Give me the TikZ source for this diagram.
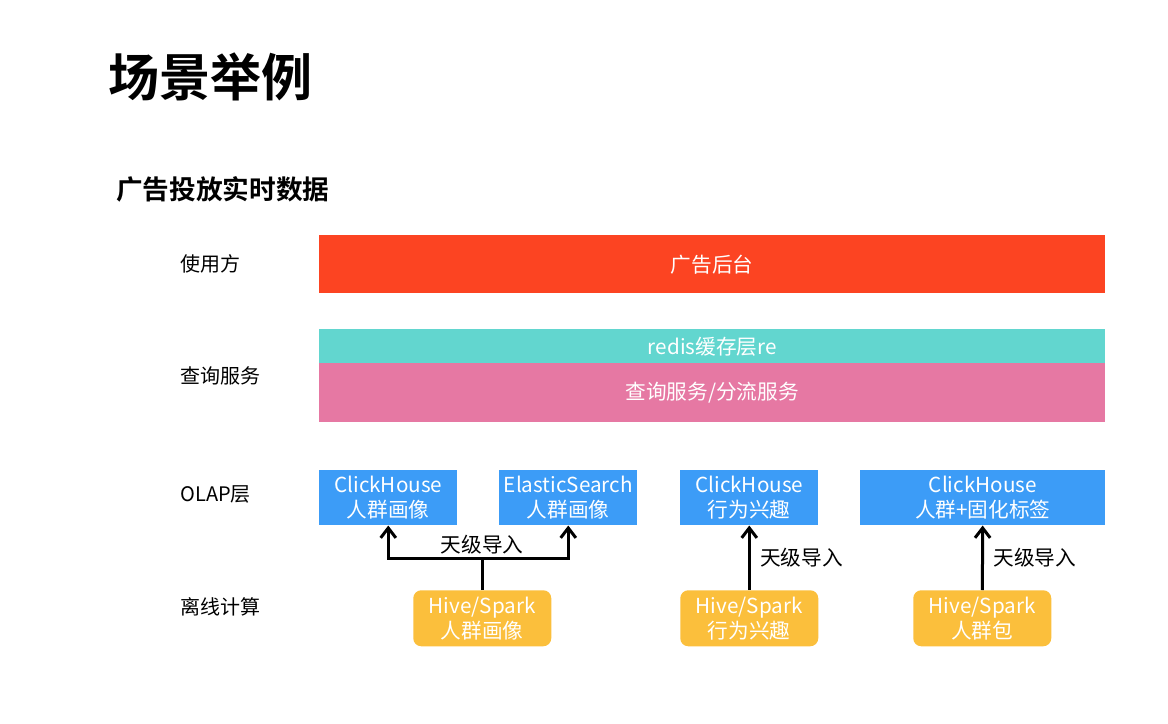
\documentclass[tikz,border=0pt]{standalone}
\usepackage{fontspec}
\setmainfont{Noto Sans CJK SC}[BoldFont={Noto Sans CJK SC Bold}]
\usetikzlibrary{
  arrows.meta,
  positioning,
  calc
}
\definecolor{scRed}{HTML}{FC4422}
\definecolor{scTeal}{HTML}{62D6CF}
\definecolor{scPink}{HTML}{E678A3}
\definecolor{scBlue}{HTML}{3C9CF7}
\definecolor{scGold}{HTML}{FBBF3C}
\tikzset{
  scnode/.style={
    inner sep=0pt, align=center, text=white,
    font=\fontsize{15.5}{18.75}\selectfont
  },
  layerbar/.style={scnode, anchor=north west, minimum width=589.5pt},
  olapbox/.style={scnode, fill=scBlue, anchor=north west, minimum width=103.5pt, minimum height=41.25pt},
  offbox/.style={scnode, fill=scGold, rounded corners=6pt, anchor=north west, minimum width=103.5pt, minimum height=42pt},
  rowlabel/.style={anchor=west, inner sep=0pt, font=\fontsize{15}{18}\selectfont},
  flow/.style={-{Straight Barb[length=2.6mm, width=4mm]}, line width=2.25pt},
  feed/.style={line width=2.25pt},
  tag/.style={font=\fontsize{15.5}{18}\selectfont, inner sep=2pt}
}

\begin{document}
\begin{tikzpicture}[x=0.75pt, y=-0.75pt]
  \useasboundingbox (0,0) rectangle (1168,724);
  % titles
  \node[anchor=west, inner sep=0pt, font=\fontsize{38.3}{40}\bfseries] (title) at (108,77) {场景举例};
  \node[anchor=west, inner sep=0pt, font=\fontsize{20}{24}\bfseries] (subtitle) at (116,189) {广告投放实时数据};
  % row labels
  \node[rowlabel] (lbluser) at (180,264) {使用方};
  \node[rowlabel] (lblquery) at (180,376) {查询服务};
  \node[rowlabel] (lblolap) at (180,494) {OLAP层};
  \node[rowlabel] (lbloff) at (180,607) {离线计算};
  % upper layers
  \node[layerbar, fill=scRed, minimum height=43.5pt] (admin) at (319,235) {广告后台};
  \node[layerbar, fill=scTeal, minimum height=25.5pt] (redis) at (319,329) {redis缓存层re};
  \node[layerbar, fill=scPink, minimum height=44.25pt] (query) at (319,363) {查询服务/分流服务};
  % OLAP layer
  \node[olapbox] (ch1) at (319,470) {ClickHouse\\人群画像};
  \node[olapbox] (es) at (499,470) {ElasticSearch\\人群画像};
  \node[olapbox] (ch2) at (680,470) {ClickHouse\\行为兴趣};
  \node[olapbox, minimum width=183.75pt] (ch3) at (860,470) {ClickHouse\\人群+固化标签};
  % offline computing
  \node[offbox] (hs1) at (413,590) {Hive/Spark\\人群画像};
  \node[offbox] (hs2) at (680,590) {Hive/Spark\\行为兴趣};
  \node[offbox] (hs3) at (913,590) {Hive/Spark\\人群包};
  % imports
  \coordinate (split) at ($(hs1.north)+(0,-32)$);
  \draw[feed] (hs1.north) -- (split);
  \draw[flow] (split) -| (ch1);
  \draw[flow] (split) -| (es);
  \node[tag, above=1pt of split] (imp1) {天级导入};
  \draw[flow] (hs2) -- node[tag, right=5pt] (imp2) {天级导入} (ch2);
  \draw[flow] (hs3) -- node[tag, right=5pt] (imp3) {天级导入} (ch3);
\end{tikzpicture}
\end{document}
